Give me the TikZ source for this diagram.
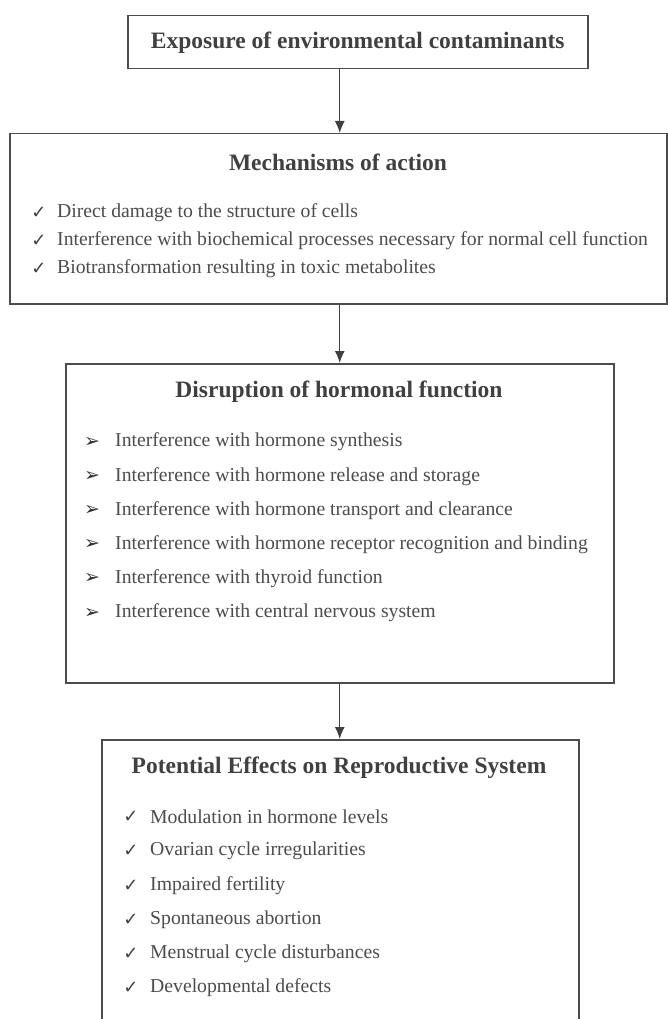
\documentclass[tikz,border=0pt]{standalone}
\usepackage{fontspec}
\setmainfont{Liberation Serif}
\newfontfamily\symfont{DejaVu Sans}
\usetikzlibrary{arrows.meta}
\tikzset{
  box/.style={draw=black!70, line width=1.5pt, anchor=north west, inner sep=0pt},
  title/.style={font=\fontsize{23.5}{28}\selectfont\bfseries, text=black!75, inner sep=0pt},
  item/.style={font=\fontsize{19.7}{24}\selectfont, text=black!70, anchor=west, inner sep=0pt},
  checkmk/.style={font=\symfont\fontsize{18}{20}\selectfont, text=black!75, inner sep=0pt},
  arrowmk/.style={font=\symfont\fontsize{19}{21}\selectfont, text=black!80, inner sep=0pt},
  link/.style={-{Latex[length=12pt,width=10pt]}, draw=black!75, line width=1.3pt}
}
\begin{document}
\begin{tikzpicture}[x=1pt, y={(0pt,-1pt)}]
\useasboundingbox (0,0) rectangle (667,1019);
\fill[white] (0,0) rectangle (667,1019);
\node[box, minimum width=460pt, minimum height=53pt] (expo) at (127,15) {};
\node[box, minimum width=657pt, minimum height=170pt] (mech) at (9,133) {};
\node[box, minimum width=548pt, minimum height=319pt] (disr) at (65,363) {};
\node[box, minimum width=477pt, minimum height=330pt] (effe) at (101,739) {};
\node[title] (expot) at (expo.center) {Exposure of environmental contaminants};
\node[title] (mecht) at (338,162) {Mechanisms of action};
\node[title] (disrt) at (339,392) {Disruption of hormonal function};
\node[title] (effet) at (339,768) {Potential Effects on Reproductive System};
\foreach \txt [count=\i] in {Direct damage to the structure of cells,
  Interference with biochemical processes necessary for normal cell function,
  Biotransformation resulting in toxic metabolites} {
  \node[checkmk] (mechc\i) at (39,185+28*\i) {✓};
  \node[item] (mechi\i) at (57,185+28*\i) {\txt};
}
\foreach \txt [count=\i] in {Interference with hormone synthesis,
  Interference with hormone release and storage,
  Interference with hormone transport and clearance,
  Interference with hormone receptor recognition and binding,
  Interference with thyroid function,
  Interference with central nervous system} {
  \node[arrowmk] (disrc\i) at (92,407.8+34.2*\i) {➢};
  \node[item] (disri\i) at (115,407.8+34.2*\i) {\txt};
}
\foreach \txt [count=\i] in {Modulation in hormone levels,
  Ovarian cycle irregularities,
  Impaired fertility,
  Spontaneous abortion,
  Menstrual cycle disturbances,
  Developmental defects} {
  \node[checkmk] (effec\i) at (131,782.8+34.2*\i) {✓};
  \node[item] (effei\i) at (150,782.8+34.2*\i) {\txt};
}
\draw[link] (expo.south -| disr.north) -- (mech.north -| disr.north);
\draw[link] (mech.south -| disr.north) -- (disr.north);
\draw[link] (disr.south) -- (effe.north -| disr.south);
\end{tikzpicture}
\end{document}
